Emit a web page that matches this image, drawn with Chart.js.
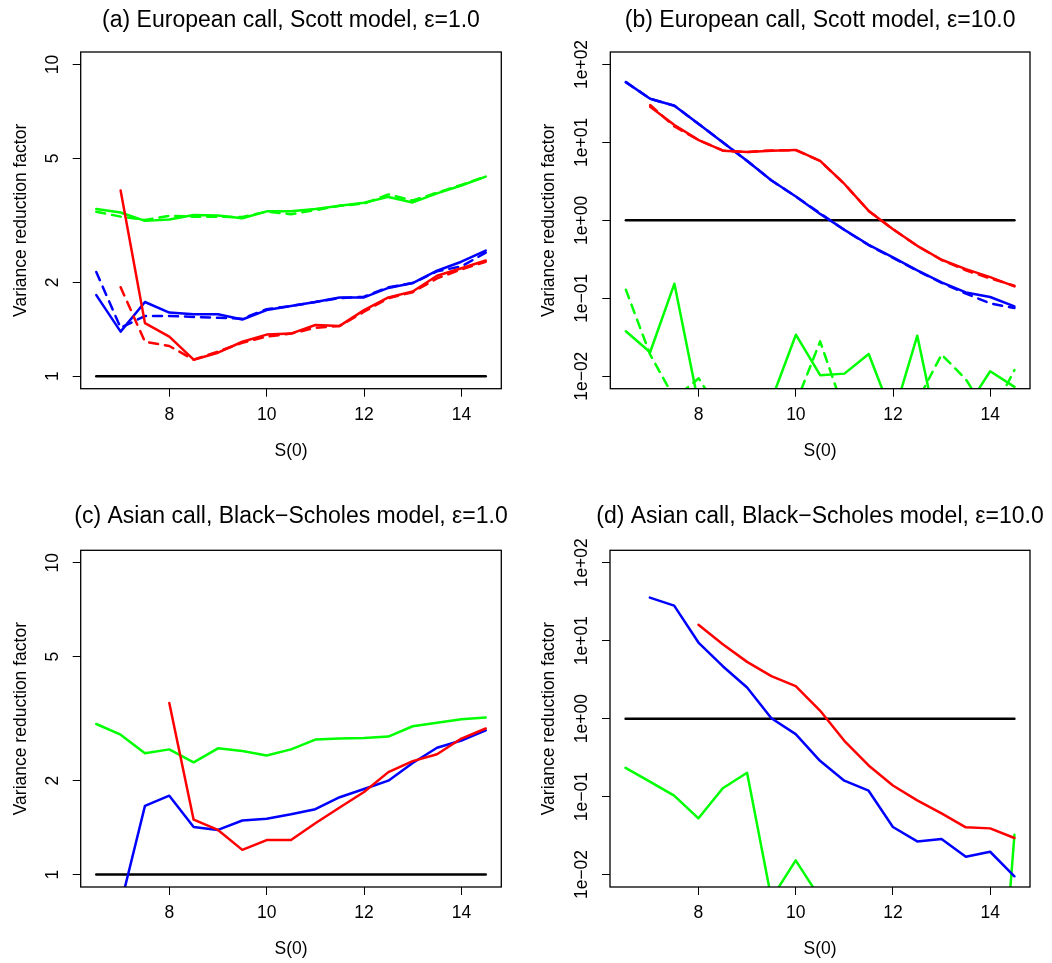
<!DOCTYPE html>
<html>
<head>
<meta charset="utf-8">
<title>Variance reduction factor</title>
<script src="https://cdn.jsdelivr.net/npm/chart.js@4.4.1/dist/chart.umd.min.js"></script>
<style>
  html, body { margin: 0; padding: 0; background: #fff; }
  body { width: 1052px; height: 963px; position: relative; overflow: hidden; }
  canvas { position: absolute; }
</style>
</head>
<body>
<canvas id="panelA"></canvas>
<canvas id="panelB"></canvas>
<canvas id="panelC"></canvas>
<canvas id="panelD"></canvas>
<script>
// S(0) values shared by every panel
const S0 = [6.5, 7, 7.5, 8, 8.5, 9, 9.5, 10, 10.5, 11, 11.5, 12, 12.5, 13, 13.5, 14, 14.5];
const X_TICKS = [8, 10, 12, 14];
const REF = 1; // black reference line

// y ticks
const LIN_TICKS = [1, 2, 5, 10];
const LIN_LABELS = ['1', '2', '5', '10'];
const LOG_TICKS = [0.01, 0.1, 1, 10, 100];
const LOG_LABELS = ['1e\u221202', '1e\u221201', '1e+00', '1e+01', '1e+02'];

// (a) European call, Scott model, eps = 1.0
const aGreen     = [3.44, 3.35, 3.15, 3.18, 3.29, 3.28, 3.21, 3.38, 3.38, 3.44, 3.52, 3.60, 3.76, 3.61, 3.86, 4.09, 4.37];
const aGreenDash = [3.37, 3.25, 3.17, 3.27, 3.25, 3.25, 3.24, 3.37, 3.31, 3.41, 3.52, 3.58, 3.83, 3.66, 3.88, 4.11, 4.37];
const aRed       = [null, 3.94, 1.48, 1.34, 1.13, 1.19, 1.29, 1.36, 1.37, 1.46, 1.45, 1.63, 1.79, 1.87, 2.10, 2.22, 2.35];
const aRedDash   = [null, 1.93, 1.29, 1.25, 1.13, 1.20, 1.28, 1.34, 1.37, 1.43, 1.45, 1.61, 1.78, 1.86, 2.06, 2.20, 2.33];
const aBlue      = [1.82, 1.39, 1.73, 1.60, 1.58, 1.58, 1.52, 1.63, 1.68, 1.73, 1.79, 1.79, 1.92, 1.99, 2.18, 2.33, 2.53];
const aBlueDash  = [2.16, 1.43, 1.56, 1.56, 1.55, 1.54, 1.53, 1.64, 1.68, 1.73, 1.78, 1.80, 1.93, 1.99, 2.17, 2.25, 2.49];

// (b) European call, Scott model, eps = 10.0
const bBlue      = [59.4, 36.3, 29.6, 17.2, 10.0, 5.78, 3.24, 2.02, 1.21, 0.756, 0.486, 0.334, 0.228, 0.160, 0.119, 0.104, 0.0787];
const bBlueDash  = [59.4, 36.3, 29.6, 17.2, 10.0, 5.78, 3.24, 2.02, 1.23, 0.750, 0.480, 0.330, 0.226, 0.158, 0.115, 0.086, 0.075];
const bRed       = [null, 28.7, 16.7, 10.7, 7.84, 7.54, 7.84, 8.00, 5.78, 2.93, 1.32, 0.77, 0.471, 0.312, 0.237, 0.187, 0.142];
const bRedDash   = [null, 30.2, 16.0, 10.7, 7.84, 7.54, 7.90, 7.95, 5.78, 2.93, 1.32, 0.77, 0.470, 0.310, 0.228, 0.180, 0.145];
const bGreen     = [0.0377, 0.0203, 0.154, 0.0043, 0.002, 0.002, 0.005, 0.0341, 0.0103, 0.0108, 0.0193, 0.003, 0.0331, 0.0011, 0.0038, 0.0116, 0.0073];
const bGreenDash = [0.129, 0.019, 0.0052, 0.0094, 0.003, 0.003, 0.003, 0.0045, 0.028, 0.0035, 0.004, 0.004, 0.0048, 0.019, 0.0091, 0.003, 0.012];

// (c) Asian call, Black-Scholes model, eps = 1.0
const cGreen = [3.04, 2.81, 2.45, 2.52, 2.29, 2.54, 2.49, 2.41, 2.52, 2.71, 2.73, 2.74, 2.77, 2.99, 3.07, 3.15, 3.19];
const cRed   = [null, null, null, 3.55, 1.50, 1.39, 1.20, 1.29, 1.29, 1.46, 1.64, 1.84, 2.13, 2.31, 2.43, 2.73, 2.94];
const cBlue  = [null, 0.80, 1.66, 1.79, 1.42, 1.39, 1.49, 1.51, 1.56, 1.62, 1.77, 1.88, 2.00, 2.28, 2.55, 2.69, 2.90];

// (d) Asian call, Black-Scholes model, eps = 10.0
const dBlue  = [null, 35.7, 28.2, 9.47, 4.71, 2.51, 1.01, 0.633, 0.288, 0.160, 0.119, 0.0407, 0.0266, 0.0285, 0.0169, 0.0196, 0.0095];
const dRed   = [null, null, null, 16.0, 9.02, 5.35, 3.51, 2.61, 1.27, 0.520, 0.251, 0.139, 0.0893, 0.0609, 0.0403, 0.0391, 0.0294];
const dGreen = [0.234, 0.156, 0.103, 0.0526, 0.128, 0.202, 0.0049, 0.0152, 0.0050, 0.001, 0.001, 0.001, 0.001, 0.001, 0.001, 0.000003, 0.0324];

const FONT = "'Liberation Sans', Arial, Helvetica, sans-serif";
const AXIS_PX = 17.5;
const TITLE_PX = 23;
const TICK_LEN = 8;
const X_MIN = 6.18, X_MAX = 14.82; // R adds 4% each side

const GREEN = '#00ff00', RED = '#ff0000', BLUE = '#0000ff';

function textWidth(txt) {
  const c = document.createElement('canvas').getContext('2d');
  c.font = AXIS_PX + 'px ' + FONT;
  return c.measureText(txt).width;
}

function series(ys, color, dashed) {
  return {
    data: S0.map((x, i) => ({ x: x, y: ys[i] })),
    borderColor: color,
    borderWidth: 2.5,
    borderDash: dashed ? [9, 7] : [],
    borderCapStyle: 'round',
    borderJoinStyle: 'round',
    pointRadius: 0,
    tension: 0,
    fill: false,
    spanGaps: false
  };
}

function refLine() {
  return series(S0.map(() => REF), '#000', false);
}

// frame round the plot region, like R's box()
const boxPlugin = {
  id: 'rbox',
  afterDatasetsDraw(chart) {
    const { ctx, chartArea: a } = chart;
    ctx.save();
    ctx.strokeStyle = '#000';
    ctx.lineWidth = 1.3;
    ctx.strokeRect(a.left, a.top, a.right - a.left, a.bottom - a.top);
    ctx.restore();
  }
};

function titlePlugin(text, y) {
  return {
    id: 'rtitle',
    afterDraw(chart) {
      const { ctx, chartArea: a } = chart;
      ctx.save();
      ctx.fillStyle = '#000';
      ctx.font = TITLE_PX + 'px ' + FONT;
      ctx.textAlign = 'center';
      ctx.textBaseline = 'alphabetic';
      ctx.fillText(text, (a.left + a.right) / 2, y);
      ctx.restore();
    }
  };
}

function panel(id, p) {
  const cv = document.getElementById(id);
  cv.width = p.w;
  cv.height = p.h;
  cv.style.left = p.ox + 'px';
  cv.style.top = p.oy + 'px';
  cv.style.width = p.w + 'px';
  cv.style.height = p.h + 'px';

  const L = p.box[0] - p.ox, T = p.box[1] - p.oy, R = p.box[2] - p.ox, B = p.box[3] - p.oy;
  const widest = Math.max(...p.yLabels.map(textWidth));
  const lh = AXIS_PX * 1.2;
  const axisFont = { family: FONT, size: AXIS_PX };
  const tickGrid = { display: true, drawOnChartArea: false, drawTicks: true, tickLength: TICK_LEN, color: '#000', lineWidth: 1 };

  new Chart(cv, {
    type: 'line',
    data: { datasets: p.datasets },
    options: {
      responsive: false,
      animation: false,
      events: [],
      layout: { padding: { left: 0, top: T, right: p.w - R, bottom: 0 } },
      plugins: { legend: { display: false }, tooltip: { enabled: false } },
      scales: {
        x: {
          type: 'linear',
          min: X_MIN,
          max: X_MAX,
          afterFit: s => { s.height = p.h - B; },
          afterBuildTicks: s => { s.ticks = X_TICKS.map(v => ({ value: v })); },
          border: { display: false },
          grid: tickGrid,
          ticks: { color: '#000', font: axisFont, padding: 8, maxRotation: 0, callback: v => String(v) },
          title: {
            display: true, text: 'S(0)', color: '#000', font: axisFont,
            padding: { top: 0, bottom: p.h - lh / 2 - (p.xTitleY - p.oy) }
          }
        },
        y: {
          type: 'logarithmic',
          min: p.yMin,
          max: p.yMax,
          afterFit: s => { s.width = L; },
          afterBuildTicks: s => { s.ticks = p.yTicks.map(v => ({ value: v })); },
          border: { display: false },
          grid: tickGrid,
          ticks: {
            color: '#000', font: axisFont,
            minRotation: 90, maxRotation: 90, crossAlign: 'center',
            padding: (L - (p.yTickX - p.ox)) - TICK_LEN - widest / 2,
            callback: (v, i) => p.yLabels[i]
          },
          title: {
            display: true, text: 'Variance reduction factor', color: '#000', font: axisFont,
            padding: { top: p.yTitleX - p.ox - lh / 2, bottom: 0 }
          }
        }
      }
    },
    plugins: [boxPlugin, titlePlugin(p.title, p.titleY - p.oy)]
  });
}

const linRange = { yMin: Math.pow(10, -0.04), yMax: Math.pow(10, 1.04), yTicks: LIN_TICKS, yLabels: LIN_LABELS };
const logRange = { yMin: Math.pow(10, -2.16), yMax: Math.pow(10, 2.16), yTicks: LOG_TICKS, yLabels: LOG_LABELS };

panel('panelA', Object.assign({
  ox: 0, oy: 0, w: 526, h: 490,
  box: [80.7, 52, 501.3, 388.7],
  title: '(a) European call, Scott model, \u03b5=1.0', titleY: 26.5,
  xTitleY: 451, yTitleX: 21, yTickX: 53.5,
  datasets: [
    series(aRed, RED, false), series(aRedDash, RED, true),
    series(aBlue, BLUE, false), series(aBlueDash, BLUE, true),
    series(aGreen, GREEN, false), series(aGreenDash, GREEN, true),
    refLine()
  ]
}, linRange));

panel('panelB', Object.assign({
  ox: 526, oy: 0, w: 526, h: 490,
  box: [610.3, 52, 1030, 388.7],
  title: '(b) European call, Scott model, \u03b5=10.0', titleY: 26.5,
  xTitleY: 451, yTitleX: 549, yTickX: 582.5,
  datasets: [
    series(bRed, RED, false), series(bRedDash, RED, true),
    series(bBlue, BLUE, false), series(bBlueDash, BLUE, true),
    series(bGreen, GREEN, false), series(bGreenDash, GREEN, true),
    refLine()
  ]
}, logRange));

panel('panelC', Object.assign({
  ox: 0, oy: 490, w: 526, h: 473,
  box: [80.7, 550.3, 501.3, 887],
  title: '(c) Asian call, Black\u2212Scholes model, \u03b5=1.0', titleY: 523,
  xTitleY: 949, yTitleX: 21, yTickX: 53.5,
  datasets: [
    series(cRed, RED, false), series(cBlue, BLUE, false),
    series(cGreen, GREEN, false), refLine()
  ]
}, linRange));

panel('panelD', Object.assign({
  ox: 526, oy: 490, w: 526, h: 473,
  box: [610, 550.3, 1030, 887],
  title: '(d) Asian call, Black\u2212Scholes model, \u03b5=10.0', titleY: 523,
  xTitleY: 949, yTitleX: 549, yTickX: 582.5,
  datasets: [
    series(dRed, RED, false), series(dBlue, BLUE, false),
    series(dGreen, GREEN, false), refLine()
  ]
}, logRange));
</script>
</body>
</html>
